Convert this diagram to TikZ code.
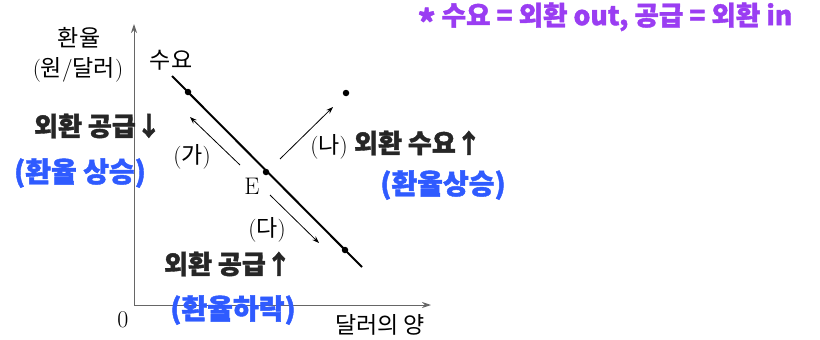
\documentclass[tikz,border=0pt]{standalone}
\usepackage{fontspec}
\usepackage{xcolor}
\usepackage{tikz}
\usetikzlibrary{positioning, arrows.meta}
\newfontfamily\kr{Noto Sans CJK KR}
\newfontfamily\hand{Noto Sans CJK KR}[BoldFeatures={FakeBold=1.5}]
\newcommand{\lpar}{{\rmfamily(}}
\newcommand{\rpar}{{\rmfamily)}}
\definecolor{hwblue}{HTML}{2F5BFF}
\definecolor{hwpurple}{HTML}{9A3DF2}
\definecolor{axisgray}{HTML}{666666}
\tikzset{
  lbl/.style={font=\kr\fontsize{23}{25}\selectfont, inner sep=0pt},
  mathlbl/.style={font=\fontsize{24}{26}\selectfont, inner sep=0pt},
  hwblack/.style={font=\hand\bfseries\fontsize{26}{28}\selectfont, text=black!85, inner sep=0pt},
  hwnote/.style={hwblack, font=\hand\bfseries\fontsize{28}{30}\selectfont, text=hwblue},
  dot/.style={circle, fill=black, inner sep=0pt, minimum size=6.5pt},
  axisline/.style={axisgray, line width=1pt, -{Stealth[length=9pt, width=6pt]}},
  shiftarrow/.style={line width=0.8pt, -{Stealth[length=7pt, width=5pt]}},
}

\begin{document}
\begin{tikzpicture}[x=1pt, y=-1pt]
  \useasboundingbox (0,0) rectangle (820,340);

  % axes
  \coordinate (O) at (134,305);
  \coordinate (ytop) at (134,24);
  \coordinate (xend) at (431,305);
  \draw[axisline] (O) -- (ytop);
  \draw[axisline] (O) -- (xend);
  \node[mathlbl] (zero) at (123,320) {0};
  \node[lbl] (ylab1) at (79,38) {환율};
  \node[lbl] (ylab2) at (78,70) {\lpar 원{\rmfamily/}달러\rpar};
  \node[lbl] (xlab) at (380,325) {달러의 양};

  % demand curve
  \coordinate (dtop) at (172,76);
  \coordinate (dbot) at (362,267);
  \draw[line width=2pt] (dtop) -- (dbot);
  \node[lbl] (dlab) at (171,60) {수요};
  \node[dot] (A) at (188,92) {};
  \node[dot] (E) at (266,172) {};
  \node[dot] (C) at (345,250) {};
  \node[dot] (B) at (346,93) {};
  \node[mathlbl] (Elab) at (252,186) {E};

  % shifts
  \coordinate (gaS) at (240,165);
  \coordinate (gaT) at (190,117);
  \coordinate (naS) at (280,159);
  \coordinate (naT) at (333,107);
  \coordinate (daS) at (270,195);
  \coordinate (daT) at (319,243);
  \draw[shiftarrow] (gaS) -- (gaT);
  \draw[shiftarrow] (naS) -- (naT);
  \draw[shiftarrow] (daS) -- (daT);
  \node[lbl] (ga) at (192,157) {\lpar 가\rpar};
  \node[lbl] (na) at (329,147) {\lpar 나\rpar};
  \node[lbl] (da) at (267,230) {\lpar 다\rpar};

  % notes
  \node[hwblack] (supdn) at (98,126) {외환 공급↓};
  \node[hwnote] (rateup1) at (80,173) {(환율 상승)};
  \node[hwblack] (demup) at (418,143) {외환 수요↑};
  \node[hwnote] (rateup2) at (443,185) {(환율상승)};
  \node[hwblack] (supup) at (228,264) {외환 공급↑};
  \node[hwnote] (ratedn) at (233,310) {(환율하락)};
  \node[hwblack, text=hwpurple, font=\hand\bfseries\fontsize{26.5}{28}\selectfont] (memo) at (605,19)
    {{\fontsize{34}{34}\selectfont\raisebox{-0.3em}{*}} 수요 = 외환 out, 공급 = 외환 in};
\end{tikzpicture}
\end{document}
